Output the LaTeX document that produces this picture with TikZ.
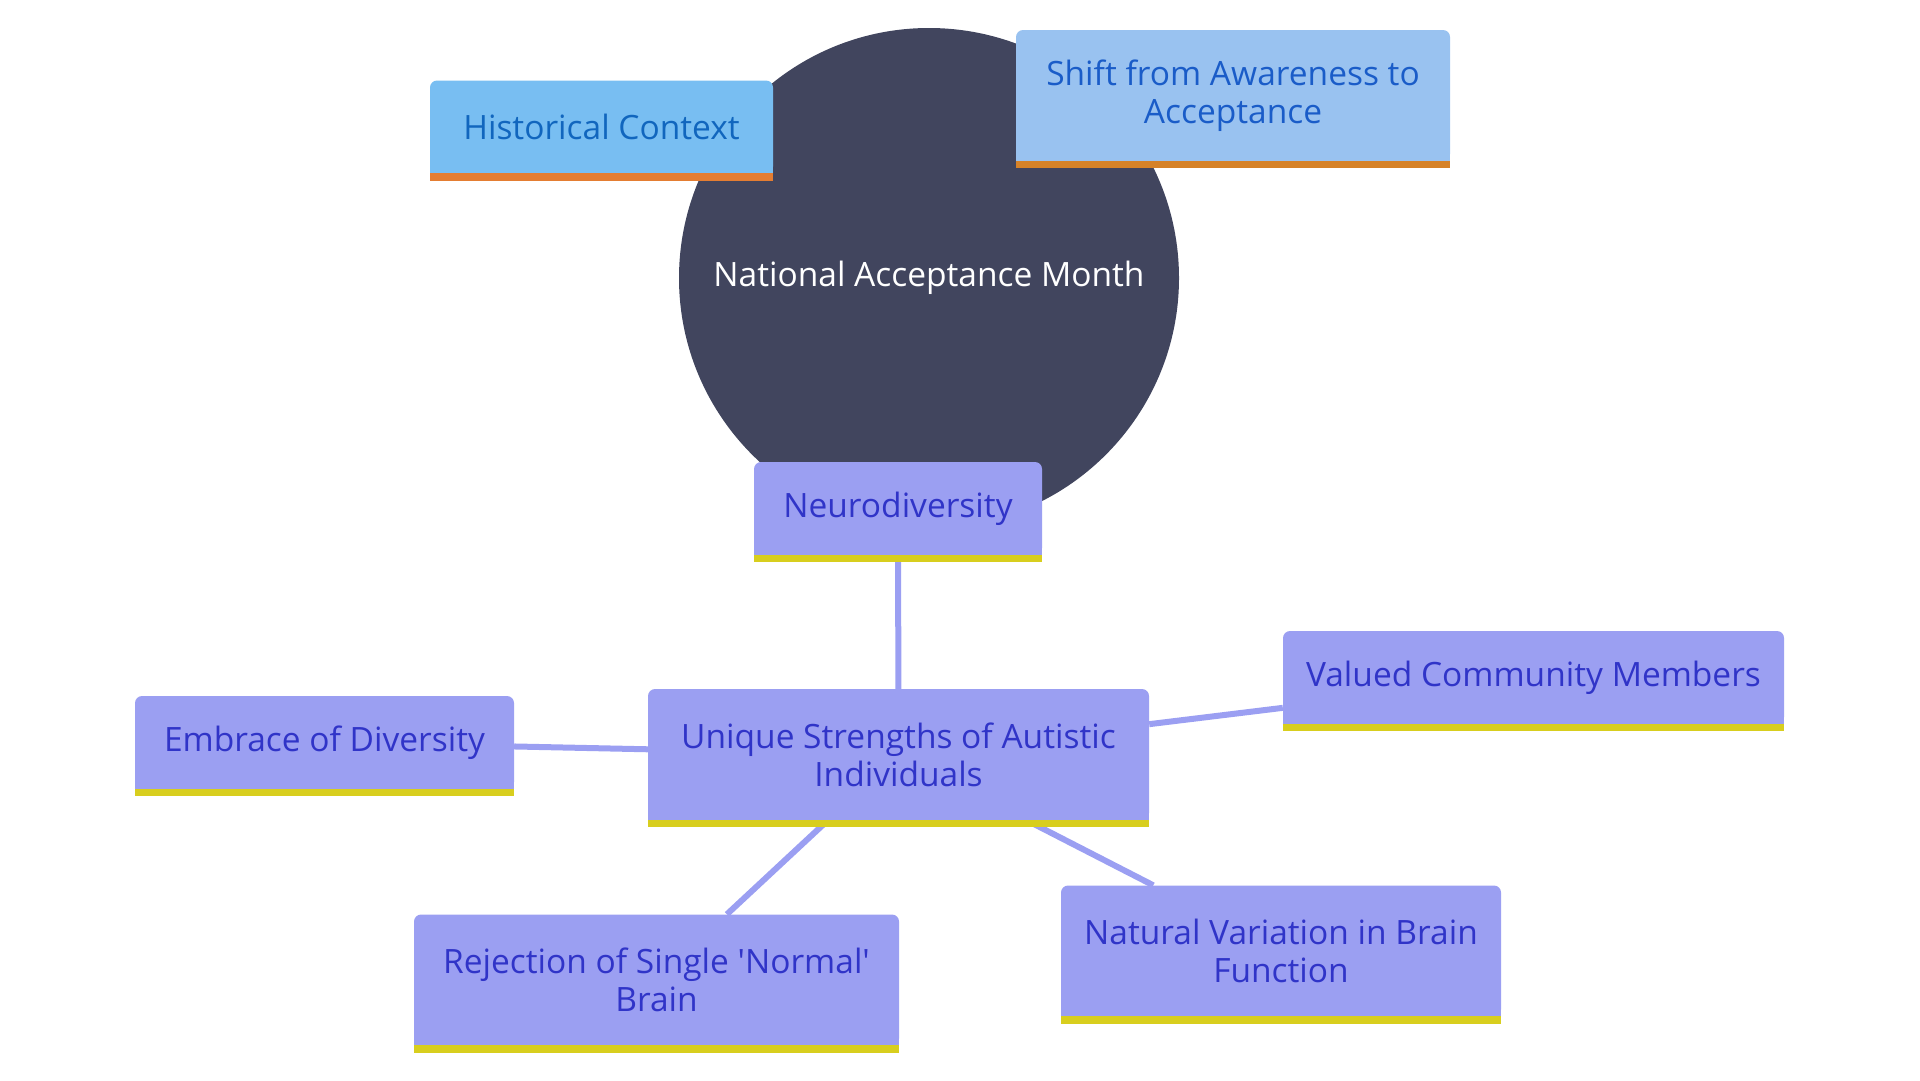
\documentclass[tikz,border=0pt]{standalone}
\usepackage{fontspec}
\setmainfont{Open Sans}
\usetikzlibrary{positioning}
\definecolor{rootfill}{HTML}{41455E}
\definecolor{leaffill}{HTML}{9B9FF2}
\definecolor{leaftext}{HTML}{3034C8}
\definecolor{yellowbar}{HTML}{D8CE1E}
\definecolor{histfill}{HTML}{78BEF2}
\definecolor{histtext}{HTML}{1166BE}
\definecolor{histbar}{HTML}{E47D32}
\definecolor{shiftfill}{HTML}{99C2F0}
\definecolor{shifttext}{HTML}{1A5CC8}
\definecolor{shiftbar}{HTML}{D68228}

\begin{document}
\begin{tikzpicture}[
    x=1pt, y=-1pt,
    every node/.style={font=\fontsize{33.5}{38}\selectfont},
    root/.style={circle, fill=rootfill, text=white, minimum size=500pt, inner sep=0pt},
    leaf/.style={rectangle, rounded corners=7pt, fill=leaffill, text=leaftext, align=center, minimum height=93pt, inner sep=0pt},
    twoline/.style={minimum height=131pt},
    link/.style={draw=leaffill, line width=6pt}
]
\useasboundingbox (0,0) rectangle (1920,1080);

% Center
\node[root] (root) at (929,278) {National Acceptance Month};

% First level
\node[leaf, fill=histfill, text=histtext, minimum width=343pt] (hist) at (601.5,127) {Historical Context};
\node[leaf, twoline, fill=shiftfill, text=shifttext, minimum width=434pt] (shift) at (1233,95.5) {Shift from Awareness to\\Acceptance};
\node[leaf, minimum width=288pt] (neuro) at (898,508.5) {Neurodiversity};

% Second level
\node[leaf, twoline, minimum width=501pt] (unique) at (898.5,754.5) {Unique Strengths of Autistic\\Individuals};

% Leaves
\node[leaf, minimum width=379pt] (embrace) at (324.5,742.5) {Embrace of Diversity};
\node[leaf, minimum width=501pt] (valued) at (1533.5,677.5) {Valued Community Members};
\node[leaf, twoline, minimum width=485pt] (reject) at (656.5,980) {Rejection of Single \textquotesingle Normal\textquotesingle\\Brain};
\node[leaf, twoline, minimum width=440pt] (natural) at (1281,951) {Natural Variation in Brain\\Function};

% Links
\draw[link] (neuro) -- (unique);
\draw[link] (unique) -- (embrace);
\draw[link] (unique) -- (valued);
\draw[link] (unique) -- (reject);
\draw[link] (unique) -- (natural);

% Bottom bars (square lower corners)
\foreach \n/\f/\c in {hist/histfill/histbar, shift/shiftfill/shiftbar, neuro/leaffill/yellowbar,
    unique/leaffill/yellowbar, embrace/leaffill/yellowbar, valued/leaffill/yellowbar,
    reject/leaffill/yellowbar, natural/leaffill/yellowbar}{
  \fill[\f] (\n.south west) rectangle ([yshift=9pt]\n.south east);
  \fill[\c] ([yshift=-7pt]\n.south west) rectangle ([yshift=0.5pt]\n.south east);
}

\end{tikzpicture}
\end{document}
